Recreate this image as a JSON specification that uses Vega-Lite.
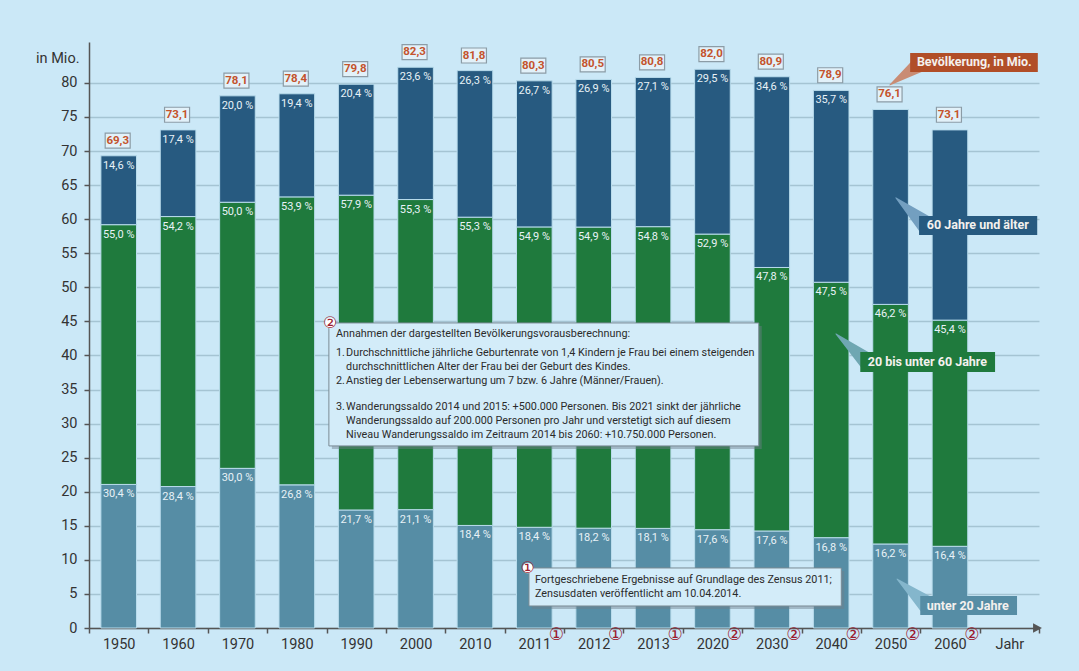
{
  "$schema": "https://vega.github.io/schema/vega-lite/v6.json",
  "width": 950,
  "height": 586,
  "autosize": "none",
  "padding": {"left": 89, "top": 42, "right": 40, "bottom": 43},
  "background": "#cbe8f7",
  "config": {
    "view": {"stroke": null},
    "font": "Roboto",
    "axisY": {
      "titleAngle": 0,
      "titleAlign": "right",
      "titleBaseline": "middle",
      "titleX": -10,
      "titleY": 16,
      "titleFontSize": 14.5,
      "titleFontWeight": "normal",
      "titleColor": "#333333",
      "labelFontSize": 14.5,
      "labelColor": "#333333",
      "labelPadding": 7,
      "tickSize": 5,
      "tickColor": "#555555",
      "tickWidth": 1.5,
      "domainColor": "#555555",
      "domainWidth": 1.5,
      "grid": true,
      "gridColor": "#a5c4d3",
      "gridWidth": 1.5
    }
  },
  "datasets": {
    "seg": [
      {"year": "1950", "g": "u", "o": 1, "v": 21.07, "lab": "30,4 %"},
      {"year": "1950", "g": "m", "o": 2, "v": 38.12, "lab": "55,0 %"},
      {"year": "1950", "g": "a", "o": 3, "v": 10.11, "lab": "14,6 %"},
      {"year": "1960", "g": "u", "o": 1, "v": 20.76, "lab": "28,4 %"},
      {"year": "1960", "g": "m", "o": 2, "v": 39.62, "lab": "54,2 %"},
      {"year": "1960", "g": "a", "o": 3, "v": 12.72, "lab": "17,4 %"},
      {"year": "1970", "g": "u", "o": 1, "v": 23.43, "lab": "30,0 %"},
      {"year": "1970", "g": "m", "o": 2, "v": 39.05, "lab": "50,0 %"},
      {"year": "1970", "g": "a", "o": 3, "v": 15.62, "lab": "20,0 %"},
      {"year": "1980", "g": "u", "o": 1, "v": 21.01, "lab": "26,8 %"},
      {"year": "1980", "g": "m", "o": 2, "v": 42.26, "lab": "53,9 %"},
      {"year": "1980", "g": "a", "o": 3, "v": 15.13, "lab": "19,4 %"},
      {"year": "1990", "g": "u", "o": 1, "v": 17.32, "lab": "21,7 %"},
      {"year": "1990", "g": "m", "o": 2, "v": 46.20, "lab": "57,9 %"},
      {"year": "1990", "g": "a", "o": 3, "v": 16.28, "lab": "20,4 %"},
      {"year": "2000", "g": "u", "o": 1, "v": 17.37, "lab": "21,1 %"},
      {"year": "2000", "g": "m", "o": 2, "v": 45.51, "lab": "55,3 %"},
      {"year": "2000", "g": "a", "o": 3, "v": 19.42, "lab": "23,6 %"},
      {"year": "2010", "g": "u", "o": 1, "v": 15.05, "lab": "18,4 %"},
      {"year": "2010", "g": "m", "o": 2, "v": 45.24, "lab": "55,3 %"},
      {"year": "2010", "g": "a", "o": 3, "v": 21.51, "lab": "26,3 %"},
      {"year": "2011", "g": "u", "o": 1, "v": 14.78, "lab": "18,4 %"},
      {"year": "2011", "g": "m", "o": 2, "v": 44.08, "lab": "54,9 %"},
      {"year": "2011", "g": "a", "o": 3, "v": 21.44, "lab": "26,7 %"},
      {"year": "2012", "g": "u", "o": 1, "v": 14.65, "lab": "18,2 %"},
      {"year": "2012", "g": "m", "o": 2, "v": 44.19, "lab": "54,9 %"},
      {"year": "2012", "g": "a", "o": 3, "v": 21.66, "lab": "26,9 %"},
      {"year": "2013", "g": "u", "o": 1, "v": 14.62, "lab": "18,1 %"},
      {"year": "2013", "g": "m", "o": 2, "v": 44.28, "lab": "54,8 %"},
      {"year": "2013", "g": "a", "o": 3, "v": 21.90, "lab": "27,1 %"},
      {"year": "2020", "g": "u", "o": 1, "v": 14.43, "lab": "17,6 %"},
      {"year": "2020", "g": "m", "o": 2, "v": 43.38, "lab": "52,9 %"},
      {"year": "2020", "g": "a", "o": 3, "v": 24.19, "lab": "29,5 %"},
      {"year": "2030", "g": "u", "o": 1, "v": 14.24, "lab": "17,6 %"},
      {"year": "2030", "g": "m", "o": 2, "v": 38.67, "lab": "47,8 %"},
      {"year": "2030", "g": "a", "o": 3, "v": 27.99, "lab": "34,6 %"},
      {"year": "2040", "g": "u", "o": 1, "v": 13.26, "lab": "16,8 %"},
      {"year": "2040", "g": "m", "o": 2, "v": 37.48, "lab": "47,5 %"},
      {"year": "2040", "g": "a", "o": 3, "v": 28.16, "lab": "35,7 %"},
      {"year": "2050", "g": "u", "o": 1, "v": 12.33, "lab": "16,2 %"},
      {"year": "2050", "g": "m", "o": 2, "v": 35.16, "lab": "46,2 %"},
      {"year": "2050", "g": "a", "o": 3, "v": 28.61, "lab": ""},
      {"year": "2060", "g": "u", "o": 1, "v": 11.99, "lab": "16,4 %"},
      {"year": "2060", "g": "m", "o": 2, "v": 33.19, "lab": "45,4 %"},
      {"year": "2060", "g": "a", "o": 3, "v": 27.92, "lab": ""}
    ],
    "tot": [
      {"year": "1950", "t": 69.3, "lbl": "69,3", "n": ""},
      {"year": "1960", "t": 73.1, "lbl": "73,1", "n": ""},
      {"year": "1970", "t": 78.1, "lbl": "78,1", "n": ""},
      {"year": "1980", "t": 78.4, "lbl": "78,4", "n": ""},
      {"year": "1990", "t": 79.8, "lbl": "79,8", "n": ""},
      {"year": "2000", "t": 82.3, "lbl": "82,3", "n": ""},
      {"year": "2010", "t": 81.8, "lbl": "81,8", "n": ""},
      {"year": "2011", "t": 80.3, "lbl": "80,3", "n": "①"},
      {"year": "2012", "t": 80.5, "lbl": "80,5", "n": "①"},
      {"year": "2013", "t": 80.8, "lbl": "80,8", "n": "①"},
      {"year": "2020", "t": 82.0, "lbl": "82,0", "n": "②"},
      {"year": "2030", "t": 80.9, "lbl": "80,9", "n": "②"},
      {"year": "2040", "t": 78.9, "lbl": "78,9", "n": "②"},
      {"year": "2050", "t": 76.1, "lbl": "76,1", "n": "②"},
      {"year": "2060", "t": 73.1, "lbl": "73,1", "n": "②"}
    ],
    "nbox": [
      {"x1": 4.04, "x2": 11.28, "y1": 26.72, "y2": 44.77},
      {"x1": 7.41, "x2": 12.67, "y1": 3.23, "y2": 8.81}
    ],
    "ntext": [
      {"x": 4.16, "y": 43.16, "t": "Annahmen der dargestellten Bevölkerungsvorausberechnung:"},
      {"x": 4.16, "y": 40.37, "t": "1."},
      {"x": 4.33, "y": 40.37, "t": "Durchschnittliche jährliche Geburtenrate von 1,4 Kindern je Frau bei einem steigenden"},
      {"x": 4.33, "y": 38.31, "t": "durchschnittlichen Alter der Frau bei der Geburt des Kindes."},
      {"x": 4.16, "y": 36.26, "t": "2."},
      {"x": 4.33, "y": 36.26, "t": "Anstieg der Lebenserwartung um 7 bzw. 6 Jahre (Männer/Frauen)."},
      {"x": 4.16, "y": 32.44, "t": "3."},
      {"x": 4.33, "y": 32.44, "t": "Wanderungssaldo 2014 und 2015: +500.000 Personen. Bis 2021 sinkt der jährliche"},
      {"x": 4.33, "y": 30.39, "t": "Wanderungssaldo auf 200.000 Personen pro Jahr und verstetigt sich auf diesem"},
      {"x": 4.33, "y": 28.33, "t": "Niveau Wanderungssaldo im Zeitraum 2014 bis 2060: +10.750.000 Personen."},
      {"x": 7.51, "y": 7.05, "t": "Fortgeschriebene Ergebnisse auf Grundlage des Zensus 2011;"},
      {"x": 7.51, "y": 4.99, "t": "Zensusdaten veröffentlicht am 10.04.2014."}
    ],
    "ncirc": [
      {"x": 4.06, "y": 44.77, "t": "②"},
      {"x": 7.39, "y": 8.81, "t": "①"}
    ],
    "wedge": [
      {"w": "pop", "x": 13.49, "y": 79.71, "s": 0, "c": "#c98c74"},
      {"w": "pop", "x": 13.95, "y": 82.5, "s": 15, "c": "#c98c74"},
      {"w": "a", "x": 13.59, "y": 63.12, "s": 0, "c": "#739fc0"},
      {"w": "a", "x": 14.08, "y": 59.3, "s": 18, "c": "#739fc0"},
      {"w": "m", "x": 12.58, "y": 43.16, "s": 0, "c": "#6fa7b2"},
      {"w": "m", "x": 13.12, "y": 39.05, "s": 18, "c": "#6fa7b2"},
      {"w": "u", "x": 13.61, "y": 7.19, "s": 0, "c": "#84b6cc"},
      {"w": "u", "x": 14.10, "y": 3.52, "s": 18, "c": "#84b6cc"}
    ],
    "lbox": [
      {"x1": 13.83, "x2": 15.98, "y1": 81.61, "y2": 84.40, "c": "#b14e28"},
      {"x1": 13.98, "x2": 15.97, "y1": 57.69, "y2": 60.48, "c": "#275a80"},
      {"x1": 12.99, "x2": 15.26, "y1": 37.58, "y2": 40.51, "c": "#1f7a3d"},
      {"x1": 14.0, "x2": 15.63, "y1": 1.91, "y2": 4.70, "c": "#568da5"}
    ],
    "ltext": [
      {"x": 14.91, "y": 83.01, "t": "Bevölkerung, in Mio."},
      {"x": 14.97, "y": 59.08, "t": "60 Jahre und älter"},
      {"x": 14.12, "y": 39.05, "t": "20 bis unter 60 Jahre"},
      {"x": 14.80, "y": 3.30, "t": "unter 20 Jahre"}
    ]
  },
  "layer": [
    {
      "encoding": {
        "x": {
          "field": "year",
          "type": "ordinal",
          "title": null,
          "scale": {
            "domain": ["1950", "1960", "1970", "1980", "1990", "2000", "2010", "2011", "2012", "2013", "2020", "2030", "2040", "2050", "2060", "Jahr"],
            "paddingInner": 0,
            "paddingOuter": 0
          },
          "axis": {
            "tickBand": "extent",
            "labelAngle": 0,
            "labelFontSize": 14.5,
            "labelColor": "#333333",
            "domainColor": "#555555",
            "domainWidth": 1.5,
            "tickColor": "#555555",
            "tickWidth": 1.5,
            "tickSize": 5,
            "labelPadding": 4,
            "grid": false
          }
        }
      },
      "layer": [
        {
          "data": {"name": "seg"},
          "mark": {"type": "bar", "width": {"band": 0.6}, "stroke": "#b9dcec", "strokeWidth": 1},
          "encoding": {
            "y": {"field": "v", "type": "quantitative", "stack": "zero", "title": "in Mio.", "scale": {"domain": [0, 86], "nice": false}, "axis": {"values": [0, 5, 10, 15, 20, 25, 30, 35, 40, 45, 50, 55, 60, 65, 70, 75, 80]}},
            "color": {
              "field": "g",
              "type": "nominal",
              "scale": {"domain": ["u", "m", "a"], "range": ["#568da5", "#1f7a3d", "#275a80"]},
              "legend": null
            },
            "order": {"field": "o", "type": "quantitative"}
          }
        },
        {
          "data": {"name": "seg"},
          "transform": [
            {"stack": "v", "groupby": ["year"], "sort": [{"field": "o", "order": "ascending"}], "as": ["y0", "y1"]}
          ],
          "mark": {"type": "text", "baseline": "top", "dy": 4, "fontSize": 11, "color": "#e8f2f7"},
          "encoding": {
            "y": {"field": "y1", "type": "quantitative", "title": "in Mio.", "scale": {"domain": [0, 86], "nice": false}, "axis": {"values": [0, 5, 10, 15, 20, 25, 30, 35, 40, 45, 50, 55, 60, 65, 70, 75, 80]}},
            "text": {"field": "lab"}
          }
        },
        {
          "data": {"name": "tot"},
          "mark": {"type": "point", "shape": "M-1.08,-1.81H0.92V-0.61H-1.08Z", "size": 625, "filled": true, "fill": "#e2f1f9", "stroke": "#8c9ca6", "strokeWidth": 1.2, "opacity": 1},
          "encoding": {
            "y": {"field": "t", "type": "quantitative", "title": "in Mio.", "scale": {"domain": [0, 86], "nice": false}, "axis": {"values": [0, 5, 10, 15, 20, 25, 30, 35, 40, 45, 50, 55, 60, 65, 70, 75, 80]}}
          }
        },
        {
          "data": {"name": "tot"},
          "mark": {"type": "text", "dx": -1, "dy": -15, "fontSize": 11.5, "fontWeight": "bold", "color": "#c4532c"},
          "encoding": {
            "y": {"field": "t", "type": "quantitative", "title": "in Mio.", "scale": {"domain": [0, 86], "nice": false}, "axis": {"values": [0, 5, 10, 15, 20, 25, 30, 35, 40, 45, 50, 55, 60, 65, 70, 75, 80]}},
            "text": {"field": "lbl"}
          }
        },
        {
          "data": {"name": "tot"},
          "mark": {"type": "text", "dx": 22, "dy": 7, "fontSize": 17, "color": "#9b1b30", "font": "DejaVu Sans"},
          "encoding": {
            "y": {"datum": 0, "type": "quantitative", "title": "in Mio.", "scale": {"domain": [0, 86], "nice": false}, "axis": {"values": [0, 5, 10, 15, 20, 25, 30, 35, 40, 45, 50, 55, 60, 65, 70, 75, 80]}},
            "text": {"field": "n"}
          }
        },
        {
          "data": {"values": [{"k": "arrow"}]},
          "mark": {"type": "point", "shape": "M0.8,-0.16L1.1,0L0.8,0.16Z", "size": 3525, "filled": true, "fill": "#555555", "opacity": 1},
          "encoding": {
            "x": {"datum": "Jahr", "type": "ordinal"},
            "y": {"datum": 0, "type": "quantitative", "title": "in Mio.", "scale": {"domain": [0, 86], "nice": false}, "axis": {"values": [0, 5, 10, 15, 20, 25, 30, 35, 40, 45, 50, 55, 60, 65, 70, 75, 80]}}
          }
        }
      ]
    },
    {
      "layer": [
        {
          "data": {"name": "nbox"},
          "mark": {"type": "rect", "fill": "#6f7f89", "opacity": 0.45, "xOffset": 3, "x2Offset": 3, "yOffset": 3, "y2Offset": 3},
          "encoding": {
            "x": {"field": "x1", "type": "quantitative", "scale": {"domain": [0, 16], "nice": false, "zero": false}, "axis": null},
            "x2": {"field": "x2"},
            "y": {"field": "y1", "type": "quantitative", "title": "in Mio.", "scale": {"domain": [0, 86], "nice": false}, "axis": {"values": [0, 5, 10, 15, 20, 25, 30, 35, 40, 45, 50, 55, 60, 65, 70, 75, 80]}},
            "y2": {"field": "y2"}
          }
        },
        {
          "data": {"name": "nbox"},
          "mark": {"type": "rect", "fill": "#d3ecf9", "stroke": "#7a8a94", "strokeWidth": 1},
          "encoding": {
            "x": {"field": "x1", "type": "quantitative", "scale": {"domain": [0, 16], "nice": false, "zero": false}, "axis": null},
            "x2": {"field": "x2"},
            "y": {"field": "y1", "type": "quantitative", "title": "in Mio.", "scale": {"domain": [0, 86], "nice": false}, "axis": {"values": [0, 5, 10, 15, 20, 25, 30, 35, 40, 45, 50, 55, 60, 65, 70, 75, 80]}},
            "y2": {"field": "y2"}
          }
        },
        {
          "data": {"name": "ntext"},
          "mark": {"type": "text", "align": "left", "baseline": "middle", "fontSize": 10.8, "color": "#2b2b2b"},
          "encoding": {
            "x": {"field": "x", "type": "quantitative", "scale": {"domain": [0, 16], "nice": false, "zero": false}, "axis": null},
            "y": {"field": "y", "type": "quantitative", "title": "in Mio.", "scale": {"domain": [0, 86], "nice": false}, "axis": {"values": [0, 5, 10, 15, 20, 25, 30, 35, 40, 45, 50, 55, 60, 65, 70, 75, 80]}},
            "text": {"field": "t"}
          }
        },
        {
          "data": {"name": "ncirc"},
          "mark": {"type": "point", "filled": true, "fill": "#ffffff", "size": 110, "opacity": 1},
          "encoding": {
            "x": {"field": "x", "type": "quantitative", "scale": {"domain": [0, 16], "nice": false, "zero": false}, "axis": null},
            "y": {"field": "y", "type": "quantitative", "title": "in Mio.", "scale": {"domain": [0, 86], "nice": false}, "axis": {"values": [0, 5, 10, 15, 20, 25, 30, 35, 40, 45, 50, 55, 60, 65, 70, 75, 80]}}
          }
        },
        {
          "data": {"name": "ncirc"},
          "mark": {"type": "text", "fontSize": 16, "color": "#9b1b30", "font": "DejaVu Sans"},
          "encoding": {
            "x": {"field": "x", "type": "quantitative", "scale": {"domain": [0, 16], "nice": false, "zero": false}, "axis": null},
            "y": {"field": "y", "type": "quantitative", "title": "in Mio.", "scale": {"domain": [0, 86], "nice": false}, "axis": {"values": [0, 5, 10, 15, 20, 25, 30, 35, 40, 45, 50, 55, 60, 65, 70, 75, 80]}},
            "text": {"field": "t"}
          }
        },
        {
          "data": {"name": "wedge"},
          "mark": {"type": "trail"},
          "encoding": {
            "x": {"field": "x", "type": "quantitative", "scale": {"domain": [0, 16], "nice": false, "zero": false}, "axis": null},
            "y": {"field": "y", "type": "quantitative", "title": "in Mio.", "scale": {"domain": [0, 86], "nice": false}, "axis": {"values": [0, 5, 10, 15, 20, 25, 30, 35, 40, 45, 50, 55, 60, 65, 70, 75, 80]}},
            "size": {"field": "s", "type": "quantitative", "scale": {"domain": [0, 20], "range": [0, 20]}, "legend": null},
            "color": {"field": "c", "type": "nominal", "scale": null},
            "detail": {"field": "w"}
          }
        },
        {
          "data": {"name": "lbox"},
          "mark": {"type": "rect"},
          "encoding": {
            "x": {"field": "x1", "type": "quantitative", "scale": {"domain": [0, 16], "nice": false, "zero": false}, "axis": null},
            "x2": {"field": "x2"},
            "y": {"field": "y1", "type": "quantitative", "title": "in Mio.", "scale": {"domain": [0, 86], "nice": false}, "axis": {"values": [0, 5, 10, 15, 20, 25, 30, 35, 40, 45, 50, 55, 60, 65, 70, 75, 80]}},
            "y2": {"field": "y2"},
            "color": {"field": "c", "type": "nominal", "scale": null}
          }
        },
        {
          "data": {"name": "ltext"},
          "mark": {"type": "text", "fontSize": 12.5, "fontWeight": "bold", "color": "#f4f1ee"},
          "encoding": {
            "x": {"field": "x", "type": "quantitative", "scale": {"domain": [0, 16], "nice": false, "zero": false}, "axis": null},
            "y": {"field": "y", "type": "quantitative", "title": "in Mio.", "scale": {"domain": [0, 86], "nice": false}, "axis": {"values": [0, 5, 10, 15, 20, 25, 30, 35, 40, 45, 50, 55, 60, 65, 70, 75, 80]}},
            "text": {"field": "t"}
          }
        }
      ]
    }
  ],
  "resolve": {"scale": {"x": "independent"}}
}
